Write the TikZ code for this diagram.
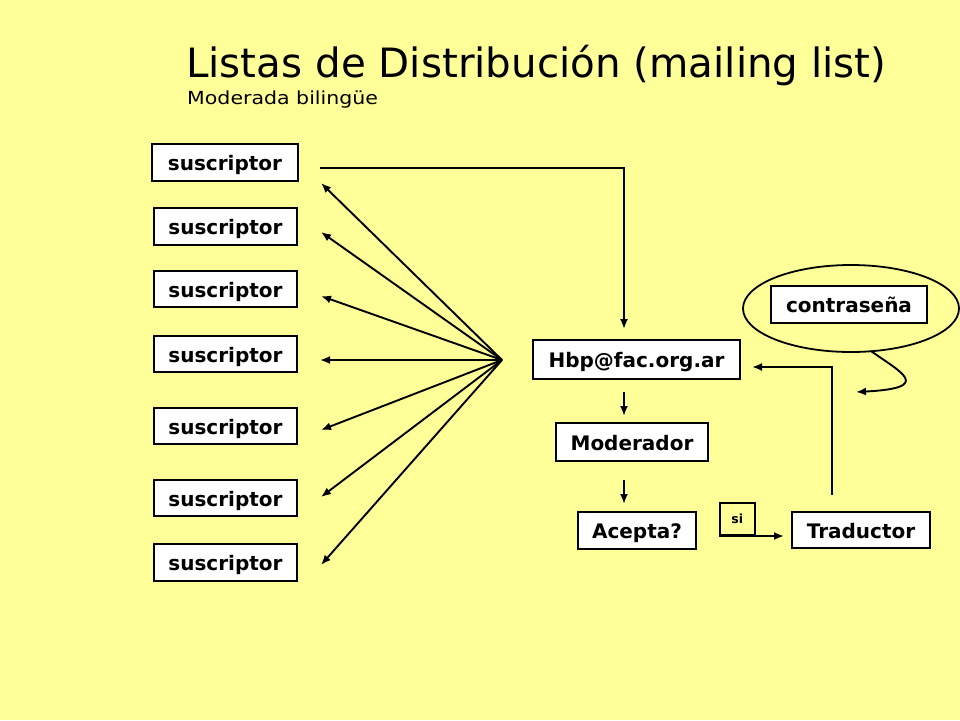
\documentclass[tikz,border=0pt]{standalone}
\usepackage{fontspec}
\setmainfont{DejaVu Sans}
\usetikzlibrary{arrows.meta,shapes.geometric}
\definecolor{bgyellow}{HTML}{FFFF99}
\tikzset{
  box/.style={draw=black, line width=2pt, fill=white, inner sep=0pt,
    font=\fontsize{20}{24}\selectfont\bfseries, text height=18pt, text depth=2pt},
  conn/.style={line width=1.9pt, -{Latex[length=10pt,width=8pt]}},
  plain/.style={line width=1.9pt}
}
\begin{document}
\begin{tikzpicture}[x=1pt,y=-1pt]
\fill[bgyellow] (0,0) rectangle (960,720);
\useasboundingbox (0,0) rectangle (960,720);

% title
\node[anchor=base west, inner sep=0pt, font=\fontsize{40.4}{48}\selectfont] (title) at (186,77) {Listas de Distribución (mailing list)};
\node[anchor=base west, inner sep=0pt, font=\fontsize{18}{22}\selectfont] (subtitle) at (187,104) {\scalebox{1.14}[1]{Moderada bilingüe}};

% suscriptores
\node[box, minimum width=146pt, minimum height=37pt] (s1) at (225,162.5) {suscriptor};
\node[box, minimum width=143pt, minimum height=37pt] (s2) at (225.5,226.5) {suscriptor};
\node[box, minimum width=143pt, minimum height=36pt] (s3) at (225.5,289) {suscriptor};
\node[box, minimum width=143pt, minimum height=36pt] (s4) at (225.5,354) {suscriptor};
\node[box, minimum width=143pt, minimum height=36pt] (s5) at (225.5,426) {suscriptor};
\node[box, minimum width=143pt, minimum height=36pt] (s6) at (225.5,498) {suscriptor};
\node[box, minimum width=143pt, minimum height=37pt] (s7) at (225.5,562.5) {suscriptor};

% central nodes
\node[box, minimum width=207pt, minimum height=39pt] (hbp) at (636.5,359.5) {Hbp@fac.org.ar};
\node[box, minimum width=152pt, minimum height=38pt] (mod) at (632,442) {Moderador};
\node[box, minimum width=118pt, minimum height=37pt] (acep) at (637,530.5) {Acepta?};
\node[box, minimum width=138pt, minimum height=36pt] (trad) at (861,530) {Traductor};

% contraseña
\node[draw=black, line width=1.8pt, ellipse, minimum width=216pt, minimum height=87pt, inner sep=0pt] (ell) at (851,308.5) {};
\node[box, minimum width=156pt, minimum height=37pt] (pass) at (849,304.5) {contraseña};

% coordinates
\coordinate (fan) at (502,360);
\coordinate (t1) at (321,183);
\coordinate (t2) at (321,232);
\coordinate (t3) at (321,296);
\coordinate (t4) at (320,360);
\coordinate (t5) at (321,430);
\coordinate (t6) at (321,497);
\coordinate (t7) at (321,565);
\coordinate (topstart) at (320,168);
\coordinate (topcorner) at (624,168);
\coordinate (topend) at (624,329);

% fan arrows
\foreach \i in {1,...,7} {
  \draw[conn] (fan) -- (t\i);
}

% top arrow
\draw[conn] (topstart) -- (topcorner) -- (topend);

% vertical arrows
\coordinate (a1s) at (624,392);
\coordinate (a1e) at (624,416);
\coordinate (a2s) at (624,480);
\coordinate (a2e) at (624,504);
\draw[conn] (a1s) -- (a1e);
\draw[conn] (a2s) -- (a2e);

% si arrow
\coordinate (sis) at (719,536);
\coordinate (sie) at (784,536);
\draw[conn] (sis) -- (sie);
\node[draw=black, line width=1.6pt, fill=bgyellow, inner sep=0pt, minimum width=35pt, minimum height=32pt, anchor=south west, font=\fontsize{12.5}{14}\selectfont\bfseries] (si) at (719,536) {si};

% feedback
\coordinate (fbs) at (832,495);
\coordinate (fbc) at (832,367);
\coordinate (fbe) at (752,367);
\draw[conn] (fbs) -- (fbc) -- (fbe);

% curved arrow from ellipse
\coordinate (cs) at (871,351);
\coordinate (ce) at (856,392);
\draw[conn] (cs) .. controls (900,372) and (935,388) .. (ce);

\end{tikzpicture}
\end{document}
